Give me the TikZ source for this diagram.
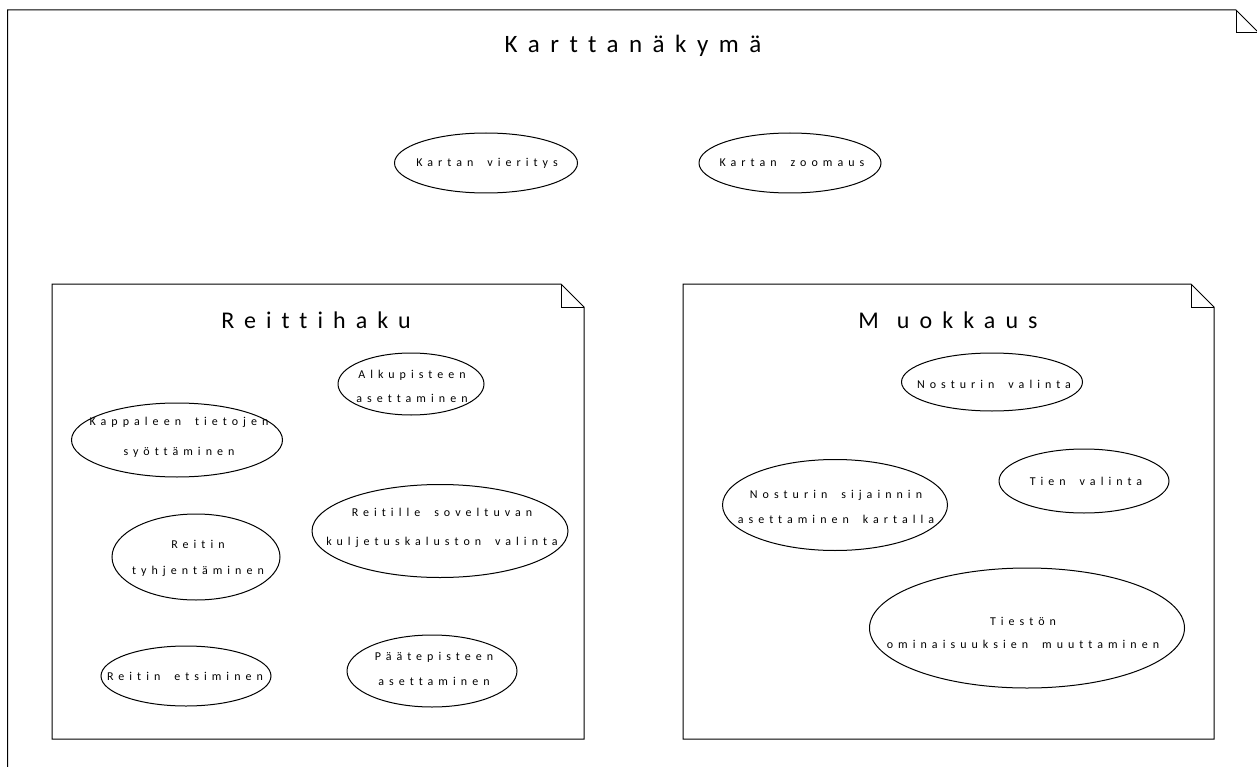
\documentclass[tikz,border=0pt]{standalone}
\usepackage{fontspec}
\setmainfont{Carlito}[LetterSpace=42, WordSpace=1.8, Ligatures=NoCommon]
\usetikzlibrary{shapes.geometric}

\tikzset{
  x=1pt, y=-1pt,
  frameline/.style={line width=1pt, line join=miter},
  usecase/.style={ellipse, draw, line width=1pt, inner sep=0pt},
  uctext/.style={align=center, inner sep=0pt, font=\fontsize{12}{#1}\selectfont},
  uctext/.default=28,
  frametitle/.style={anchor=base, inner sep=0pt, font=\fontsize{24}{28}\selectfont},
  maintitle/.style={anchor=base, inner sep=0pt,
    font=\fontsize{25}{30}\selectfont\addfontfeatures{LetterSpace=42}},
}

% package frame with a folded top-right corner: x1, y1, x2, y2, fold size
\newcommand\pkgframe[5]{%
  \draw[frameline] (#1,#4) -- (#1,#2) -- (#3-#5,#2) -- (#3,#2+#5) -- (#3,#4) -- cycle;
  \draw[frameline] (#3-#5,#2) -- (#3-#5,#2+#5) -- (#3,#2+#5);
}

\begin{document}
\begin{tikzpicture}
\useasboundingbox (0,0) rectangle (1257,767);
\clip (0,0) rectangle (1257,767);
\fill[white] (0,0) rectangle (1257,767);

% outer frame (runs past the right and bottom edges)
\draw[frameline] (7.5,790) -- (7.5,10) -- (1236,10) -- (1259,33) -- (1259,790);
\draw[frameline] (1236,10) -- (1236,33) -- (1259,33);
\node[maintitle] (tmain) at (633,52.7) {Karttanäkymä};

% inner frames
\pkgframe{52}{284}{584}{739}{23}
\pkgframe{683}{284}{1214}{739}{23}
\node[frametitle] (treitti) at (316,328) {Reittihaku};
\node[frametitle] (tmuok) at (948,328) {M\hspace{18pt}uokkaus};

% top-level use cases
\node[usecase, minimum width=183pt, minimum height=60pt] (vier) at (486,163) {};
\node[uctext] (viert) at (487,163) {Kartan vieritys};
\node[usecase, minimum width=182pt, minimum height=60pt] (zoom) at (790,163) {};
\node[uctext] (zoomt) at (792,163) {Kartan zoomaus};

% route search
\node[usecase, minimum width=146pt, minimum height=62pt] (alku) at (411,384) {};
\node[uctext=24] (alkut) at (412,386) {Alkupisteen\\asettaminen};
\node[usecase, minimum width=211pt, minimum height=74pt] (kapp) at (177,440) {};
\node[uctext=30] (kappt) at (179,437) {Kappaleen tietojen\\syöttäminen};
\node[usecase, minimum width=256pt, minimum height=93pt] (kalu) at (440,531) {};
\node[uctext=29] (kalut) at (442,528) {Reitille soveltuvan\\kuljetuskaluston valinta};
\node[usecase, minimum width=168pt, minimum height=86pt] (tyhj) at (196,557) {};
\node[uctext=26] (tyhjt) at (198,558) {Reitin\\tyhjentäminen};
\node[usecase, minimum width=170pt, minimum height=60pt] (etsi) at (186,676) {};
\node[uctext] (etsit) at (185,676) {Reitin etsiminen};
\node[usecase, minimum width=170pt, minimum height=72pt] (paate) at (432,671) {};
\node[uctext=25] (paatet) at (434,669) {Päätepisteen\\asettaminen};

% editing
\node[usecase, minimum width=181pt, minimum height=58pt] (nval) at (992,382) {};
\node[uctext] (nvalt) at (994,384) {Nosturin valinta};
\node[usecase, minimum width=225pt, minimum height=91pt] (nsij) at (835,505) {};
\node[uctext=25] (nsijt) at (836,507) {Nosturin sijainnin\\asettaminen kartalla};
\node[usecase, minimum width=170pt, minimum height=64pt] (tien) at (1084,481) {};
\node[uctext] (tient) at (1086,481) {Tien valinta};
\node[usecase, minimum width=315pt, minimum height=120pt] (ties) at (1027,628) {};
\node[uctext=23] (tiest) at (1023,633) {Tiestön\\ominaisuuksien muuttaminen};
\end{tikzpicture}
\end{document}
